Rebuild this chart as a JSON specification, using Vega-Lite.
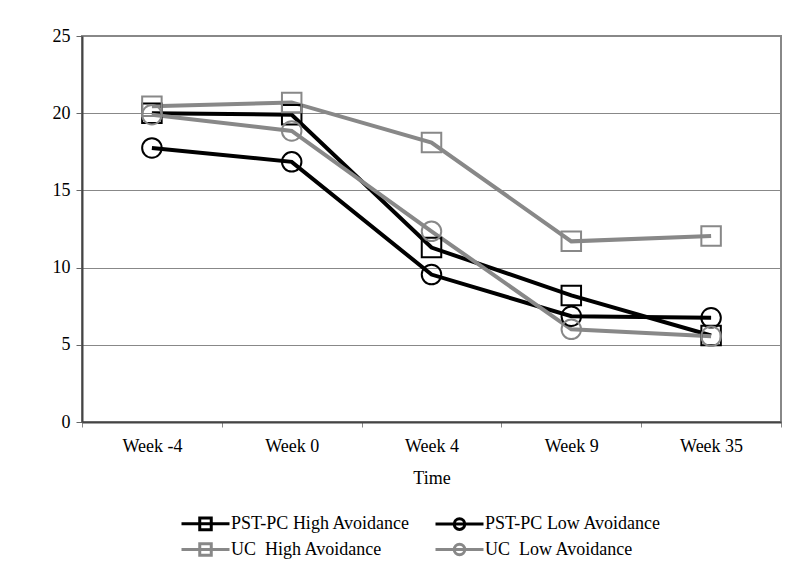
{
  "$schema": "https://vega.github.io/schema/vega-lite/v6.json",
  "width": 699,
  "height": 386,
  "autosize": {"type": "none"},
  "padding": {"left": 82, "top": 36, "right": 19, "bottom": 150},
  "background": "white",
  "config": {
    "font": "Liberation Serif",
    "view": {"stroke": "#888888", "strokeWidth": 2},
    "axis": {"labelFont": "Liberation Serif", "titleFont": "Liberation Serif", "labelFontSize": 18, "titleFontSize": 18, "titleFontWeight": "normal", "labelColor": "black", "titleColor": "black"},
    "legend": {"labelFont": "Liberation Serif", "labelFontSize": 18, "labelColor": "black"}
  },
  "data": {
    "values": [
      {"group": "PST-PC High Avoidance", "avoid": "High", "week": "Week -4", "value": 20.0},
      {"group": "PST-PC High Avoidance", "avoid": "High", "week": "Week 0", "value": 19.9},
      {"group": "PST-PC High Avoidance", "avoid": "High", "week": "Week 4", "value": 11.3},
      {"group": "PST-PC High Avoidance", "avoid": "High", "week": "Week 9", "value": 8.2},
      {"group": "PST-PC High Avoidance", "avoid": "High", "week": "Week 35", "value": 5.6},
      {"group": "PST-PC Low Avoidance", "avoid": "Low", "week": "Week -4", "value": 17.75},
      {"group": "PST-PC Low Avoidance", "avoid": "Low", "week": "Week 0", "value": 16.85},
      {"group": "PST-PC Low Avoidance", "avoid": "Low", "week": "Week 4", "value": 9.55},
      {"group": "PST-PC Low Avoidance", "avoid": "Low", "week": "Week 9", "value": 6.85},
      {"group": "PST-PC Low Avoidance", "avoid": "Low", "week": "Week 35", "value": 6.75},
      {"group": "UC\u00a0 High Avoidance", "avoid": "High", "week": "Week -4", "value": 20.45},
      {"group": "UC\u00a0 High Avoidance", "avoid": "High", "week": "Week 0", "value": 20.7},
      {"group": "UC\u00a0 High Avoidance", "avoid": "High", "week": "Week 4", "value": 18.1},
      {"group": "UC\u00a0 High Avoidance", "avoid": "High", "week": "Week 9", "value": 11.7},
      {"group": "UC\u00a0 High Avoidance", "avoid": "High", "week": "Week 35", "value": 12.05},
      {"group": "UC\u00a0 Low Avoidance", "avoid": "Low", "week": "Week -4", "value": 19.9},
      {"group": "UC\u00a0 Low Avoidance", "avoid": "Low", "week": "Week 0", "value": 18.85},
      {"group": "UC\u00a0 Low Avoidance", "avoid": "Low", "week": "Week 4", "value": 12.35},
      {"group": "UC\u00a0 Low Avoidance", "avoid": "Low", "week": "Week 9", "value": 6.0},
      {"group": "UC\u00a0 Low Avoidance", "avoid": "Low", "week": "Week 35", "value": 5.55}
    ]
  },
  "encoding": {
    "x": {
      "field": "week", "type": "ordinal", "sort": ["Week -4", "Week 0", "Week 4", "Week 9", "Week 35"],
      "scale": {"paddingInner": 0, "paddingOuter": 0},
      "axis": {"title": "Time", "labelAngle": 0, "tickBand": "extent", "tickSize": 5, "tickColor": "#888888", "domainColor": "#444444", "domainWidth": 2, "labelPadding": 10, "titlePadding": 14,
               "labelFont": "Liberation Serif", "labelFontSize": 18, "titleFont": "Liberation Serif", "titleFontSize": 18}
    },
    "y": {
      "field": "value", "type": "quantitative",
      "scale": {"domain": [0, 25]},
      "axis": {"title": null, "values": [0, 5, 10, 15, 20, 25], "tickSize": 6, "tickColor": "#666666", "domainColor": "#444444", "domainWidth": 2, "gridColor": "#888888", "gridWidth": 1, "gridOpacity": 1, "labelPadding": 6,
               "labelFont": "Liberation Serif", "labelFontSize": 18}
    },
    "color": {
      "field": "group", "type": "nominal",
      "scale": {"domain": ["PST-PC High Avoidance", "PST-PC Low Avoidance", "UC\u00a0 High Avoidance", "UC\u00a0 Low Avoidance"], "range": ["#000000", "#000000", "#888888", "#888888"]}
    }
  },
  "layer": [
    {
      "mark": {"type": "line", "strokeWidth": 4},
      "encoding": {
        "color": {
          "field": "group", "type": "nominal",
          "legend": {
            "title": null, "orient": "none", "direction": "horizontal", "legendX": 114, "legendY": 478, "padding": 0, "columns": 2, "columnPadding": 18, "rowPadding": 1,
            "symbolSize": 256, "symbolStrokeWidth": 3, "labelOffset": 16, "labelLimit": 400,
            "labelFont": "Liberation Serif", "labelFontSize": 18,
            "encode": {
              "symbols": {"update": {
                "shape": {"signal": "indexof(datum.value,'High')>=0 ? 'M-3,0H3M-0.72,-0.72H0.72V0.72H-0.72Z' : 'M-3,0H3M-0.66,0A0.66,0.66 0 1,0 0.66,0A0.66,0.66 0 1,0 -0.66,0'"},
                "fill": {"value": "transparent"},
                "strokeWidth": {"value": 3}
              }}
            }
          }
        }
      }
    },
    {
      "mark": {"type": "point", "filled": false, "size": 380, "strokeWidth": 2, "opacity": 1},
      "encoding": {
        "shape": {"field": "avoid", "type": "nominal", "scale": {"domain": ["High", "Low"], "range": ["square", "circle"]}, "legend": null}
      }
    }
  ]
}
